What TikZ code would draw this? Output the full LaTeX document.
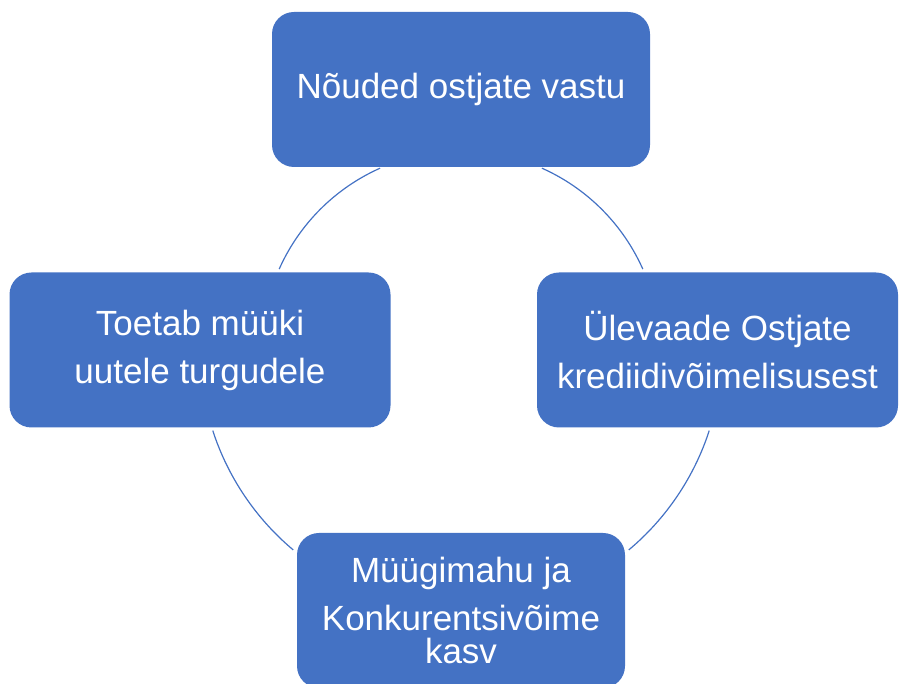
\documentclass[tikz,border=0pt]{standalone}
\usepackage{fontspec}
\setmainfont{Liberation Sans}
\usepackage{xcolor}
\usetikzlibrary{positioning}
\definecolor{sinine}{HTML}{4472C4}

\begin{document}
\begin{tikzpicture}[x=0.75pt,y=0.75pt,
        kast/.style={rectangle,rounded corners=16.5pt,fill=sinine,text=white,
          align=center,inner sep=0pt,minimum height=116.25pt,
          font=\fontsize{26.25}{36}\selectfont},
        kaar/.style={sinine,line width=0.9pt}]
        \useasboundingbox (0,0) rectangle (900,684);
        \coordinate (kesk) at (461,334);
        \node[kast,minimum width=283.5pt] (noud) at (461,594.5) {Nõuded ostjate vastu};
        \node[kast,minimum width=270.75pt] (ylev) at (717.5,334) {Ülevaade Ostjate\\krediidivõimelisusest};
        \node[kast,minimum width=246pt] (myyk) at (461,73.5) {Müügimahu ja\\Konkurentsivõime\\[-11.25pt]kasv};
        \node[kast,minimum width=285.75pt] (toet) at (200,334) {Toetab müüki\\uutele turgudele};
        \draw[kaar] ([shift={(24:199)}]kesk) arc[start angle=24,end angle=66,radius=199];
        \draw[kaar] ([shift={(114:199)}]kesk) arc[start angle=114,end angle=156,radius=199];
        \draw[kaar] ([shift={(198:261)}]kesk) arc[start angle=198,end angle=230,radius=261];
        \draw[kaar] ([shift={(310:261)}]kesk) arc[start angle=310,end angle=342,radius=261];
    \end{tikzpicture}
\end{document}
